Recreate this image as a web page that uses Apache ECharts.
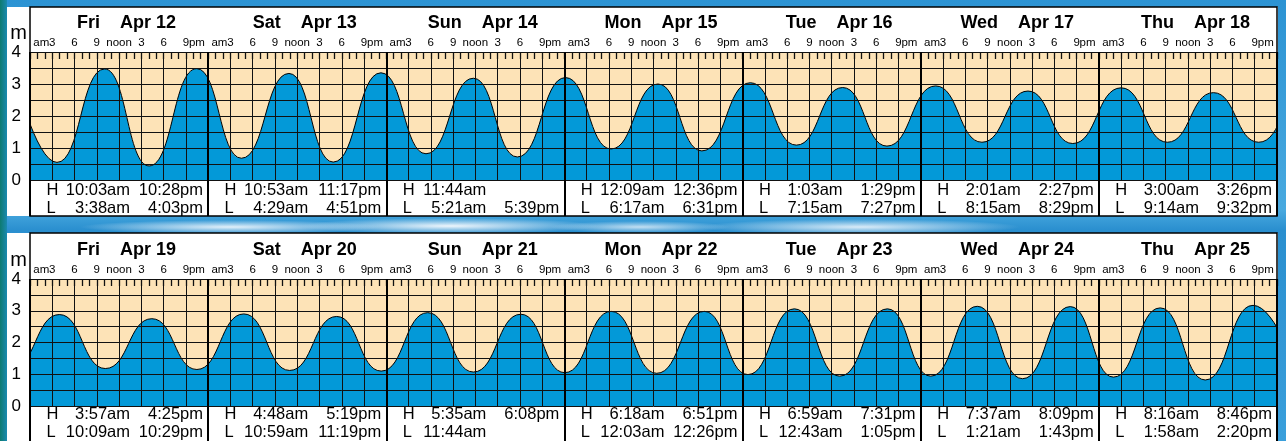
<!DOCTYPE html>
<html>
<head>
<meta charset="utf-8">
<script src="https://cdn.jsdelivr.net/npm/echarts@6/dist/echarts.min.js"></script>
<style>
html,body{margin:0;padding:0;width:1286px;height:441px;overflow:hidden;}
body{background:
 radial-gradient(ellipse 150px 7px at 230px 227px, rgba(236,245,252,.95), rgba(236,245,252,0)),
 radial-gradient(ellipse 150px 8px at 450px 226px, rgba(242,248,253,.98), rgba(242,248,253,0)),
 radial-gradient(ellipse 90px 6px at 640px 227px, rgba(230,242,250,.8), rgba(230,242,250,0)),
 radial-gradient(ellipse 160px 8px at 860px 227px, rgba(236,245,252,.9), rgba(236,245,252,0)),
 linear-gradient(to bottom, #2c93d3 0px, #48a9df 210px, #2a8fcf 230px, #3a9fdb 441px);}
#chart{width:1286px;height:441px;}
#edgeL{position:absolute;left:0;top:0;width:7px;height:441px;background:linear-gradient(to right,#0e7a70,#1a8ab0);}
</style>
</head>
<body>
<div id="edgeL"></div>
<div id="chart" style="position:absolute;left:0;top:0;"></div>
<script>
// ---- data ----
const weekdays = ['Fri', 'Sat', 'Sun', 'Mon', 'Tue', 'Wed', 'Thu'];
const dates = ['Apr 12', 'Apr 13', 'Apr 14', 'Apr 15', 'Apr 16', 'Apr 17', 'Apr 18',
               'Apr 19', 'Apr 20', 'Apr 21', 'Apr 22', 'Apr 23', 'Apr 24', 'Apr 25'];
const highTimes = [
  ['10:03am', '10:28pm'], ['10:53am', '11:17pm'], ['11:44am'], ['12:09am', '12:36pm'],
  ['1:03am', '1:29pm'], ['2:01am', '2:27pm'], ['3:00am', '3:26pm'],
  ['3:57am', '4:25pm'], ['4:48am', '5:19pm'], ['5:35am', '6:08pm'], ['6:18am', '6:51pm'],
  ['6:59am', '7:31pm'], ['7:37am', '8:09pm'], ['8:16am', '8:46pm']
];
const highHeights = [
  [3.47, 3.48], [3.33, 3.35], [3.18], [3.20, 3.00], [3.04, 2.89], [2.94, 2.78], [2.88, 2.73],
  [2.88, 2.75], [2.90, 2.82], [2.94, 2.89], [2.98, 2.98], [3.06, 3.06], [3.14, 3.13], [3.09, 3.17]
];
const lowTimes = [
  ['3:38am', '4:03pm'], ['4:29am', '4:51pm'], ['5:21am', '5:39pm'], ['6:17am', '6:31pm'],
  ['7:15am', '7:27pm'], ['8:15am', '8:29pm'], ['9:14am', '9:32pm'],
  ['10:09am', '10:29pm'], ['10:59am', '11:19pm'], ['11:44am'], ['12:03am', '12:26pm'],
  ['12:43am', '1:05pm'], ['1:21am', '1:43pm'], ['1:58am', '2:20pm']
];
const lowHeights = [
  [0.55, 0.44], [0.68, 0.56], [0.82, 0.72], [0.97, 0.91], [1.09, 1.06], [1.18, 1.14], [1.18, 1.18],
  [1.18, 1.15], [1.12, 1.10], [1.07], [1.05, 1.03], [0.99, 0.94], [0.94, 0.86], [0.91, 0.82]
];
// turning points just outside the charted fortnight (estimated from the curve at the edges)
const edgeDays = [-1, 14];
const edgeTimes = ['9:47pm', '2:58am'];
const edgeHeights = [3.45, 0.85];
const yTicks = ['0', '1', '2', '3', '4'];

// ---- helpers ----
function toHour(day, t) {
  const m = t.match(/(\d+):(\d+)(am|pm)/);
  const h = (+m[1]) % 12 + (m[3] === 'pm' ? 12 : 0);
  return day * 24 + h + (+m[2]) / 60;
}
const turns = [];
for (let d = 0; d < dates.length; d++) {
  highTimes[d].forEach((t, j) => turns.push([toHour(d, t), highHeights[d][j]]));
  lowTimes[d].forEach((t, j) => turns.push([toHour(d, t), lowHeights[d][j]]));
}
edgeDays.forEach((d, i) => turns.push([toHour(d, edgeTimes[i]), edgeHeights[i]]));
turns.sort((a, b) => a[0] - b[0]);

const FONT = "'Liberation Sans', Arial, Helvetica, sans-serif";
const NARROW = "'Liberation Sans Narrow', 'Arial Narrow', 'Liberation Sans', sans-serif";
const LINE = '#111';
const panels = [
  { top: 52, height: 128, boxTop: 7, boxH: 209, day0: 0, hlMargin: 1 },
  { top: 279, height: 127, boxTop: 233, boxH: 215, day0: 7, hlMargin: 0 }
];
const LEFT = 30, WIDTH = 1247;

const grid = [], xAxis = [], yAxis = [], series = [], graphic = [];
panels.forEach((p, pi) => {
  const g0 = pi * 3;
  const minH = p.day0 * 24, maxH = minH + 168;
  const panelDays = dates.slice(p.day0, p.day0 + 7);
  for (let k = 0; k < 3; k++) {
    grid.push({ left: LEFT, top: p.top, width: WIDTH, height: p.height, z: 0,
      show: k === 0, backgroundColor: k === 0 ? '#fde3b7' : 'transparent', borderWidth: 0 });
  }
  // main value axis: 3-hour grid lines
  xAxis.push({ gridIndex: g0, type: 'value', position: 'bottom', min: minH, max: maxH, interval: 3, z: 5,
    axisLine: { show: false }, axisTick: { show: false }, axisLabel: { show: false },
    splitLine: { show: true, lineStyle: { color: LINE, width: 1 } } });
  // hourly ticks under the top edge
  xAxis.push({ gridIndex: g0, type: 'value', position: 'top', min: minH, max: maxH, interval: 1, z: 5,
    axisLine: { show: false }, axisLabel: { show: false }, splitLine: { show: false },
    axisTick: { show: true, inside: true, length: 7, lineStyle: { color: LINE, width: 1.3 } } });
  // hour labels
  xAxis.push({ gridIndex: g0 + 1, type: 'value', position: 'top', min: minH, max: maxH, interval: 3, z: 5,
    axisLine: { show: false }, axisTick: { show: false }, splitLine: { show: false },
    axisLabel: { show: true, margin: 3, color: '#000', fontFamily: NARROW, fontSize: 11.5, lineHeight: 12,
      showMinLabel: true, showMaxLabel: true,
      formatter: v => {
        const h = ((Math.round(v) % 24) + 24) % 24;
        switch (h) {
          case 3: return '{ap|am}{n|3}{pad| }';
          case 6: return '6';
          case 9: return '9';
          case 12: return 'noon';
          case 15: return '3';
          case 18: return '6';
          case 21: return '{pad| }{n|9}{ap|pm}';
          default: return '';
        }
      },
      rich: {
        ap: { width: 13, align: 'center', fontFamily: NARROW, fontSize: 11.5, lineHeight: 12, color: '#000' },
        n: { width: 9, align: 'center', fontFamily: NARROW, fontSize: 11.5, lineHeight: 12, color: '#000' },
        pad: { width: 13, align: 'center', fontFamily: NARROW, fontSize: 11.5, lineHeight: 12 }
      } } });
  // high / low text table below the plot
  xAxis.push({ gridIndex: g0 + 1, type: 'category', position: 'bottom', data: panelDays, boundaryGap: true, z: 6,
    axisLine: { show: false }, splitLine: { show: false },
    axisTick: { show: true, interval: 0, length: 36, lineStyle: { color: '#000', width: 2 } },
    axisLabel: { show: true, interval: 0, margin: p.hlMargin, padding: [0, 0, 0, 11.3],
      formatter: (val, idx) => {
        const d = p.day0 + idx;
        const hi = highTimes[d], lo = lowTimes[d];
        const row = (k, arr) => '{k|' + k + '}{a|' + arr[0] + '}{b|' + (arr[1] || ' ') + '}';
        return row('H', hi) + '\n' + row('L', lo);
      },
      rich: {
        k: { width: 12, align: 'left', fontFamily: FONT, fontSize: 16.5, lineHeight: 18, color: '#000' },
        a: { width: 71.6, align: 'right', fontFamily: FONT, fontSize: 16.5, lineHeight: 18, color: '#000' },
        b: { width: 73, align: 'right', fontFamily: FONT, fontSize: 16.5, lineHeight: 18, color: '#000' }
      } } });
  // day headers + day separator lines
  xAxis.push({ gridIndex: g0 + 2, type: 'category', position: 'top', data: panelDays, boundaryGap: true, z: 6,
    axisLine: { show: false },
    splitLine: { show: true, interval: 0, lineStyle: { color: '#000', width: 2 } },
    axisTick: { show: true, interval: 0, length: p.top - p.boxTop, lineStyle: { color: '#000', width: 2 } },
    axisLabel: { show: true, interval: 0, margin: 19, padding: [0, 0, 0, 15],
      formatter: (val, idx) => '{d|' + weekdays[idx] + '}{s| }{m|' + val + '}',
      rich: {
        d: { align: 'left', fontFamily: FONT, fontSize: 18, fontWeight: 'bold', lineHeight: 20, color: '#000' },
        s: { width: 20, align: 'left', fontSize: 18, lineHeight: 20 },
        m: { align: 'left', fontFamily: FONT, fontSize: 18, fontWeight: 'bold', lineHeight: 20, color: '#000' }
      } } });

  yAxis.push({ gridIndex: g0, type: 'value', min: 0, max: 4, interval: 0.5, z: 5,
    name: 'm', nameLocation: 'end', nameGap: 9,
    nameTextStyle: { fontFamily: FONT, fontSize: 20, color: '#000', align: 'right', verticalAlign: 'bottom', padding: [0, 3, 0, 0] },
    axisLine: { show: false }, axisTick: { show: false },
    axisLabel: { show: true, margin: 9, color: '#000', fontFamily: FONT, fontSize: 17,
      formatter: v => (Number.isInteger(v) ? yTicks[v] : '') },
    splitLine: { show: true, lineStyle: { color: LINE, width: 1 } } });
  yAxis.push({ gridIndex: g0 + 1, type: 'value', show: false });
  yAxis.push({ gridIndex: g0 + 2, type: 'value', show: false });

  series.push({ type: 'line', xAxisIndex: pi * 5, yAxisIndex: pi * 3, data: turns, z: 1,
    smooth: 0.5, smoothMonotone: 'x', showSymbol: false, symbol: 'none', clip: true, silent: true,
    lineStyle: { color: '#000', width: 1 },
    areaStyle: { color: '#0399d8', opacity: 1 } });

  graphic.push({ type: 'rect', z: -10, silent: true,
    shape: { x: 7, y: p.boxTop, width: 1271, height: p.boxH }, style: { fill: '#fff' } });
  graphic.push({ type: 'rect', z: 50, silent: true,
    shape: { x: LEFT, y: p.boxTop, width: WIDTH, height: p.boxH },
    style: { fill: 'none', stroke: '#000', lineWidth: 1.5 } });
});

const chart = echarts.init(document.getElementById('chart'), null, { renderer: 'canvas' });
chart.setOption({ animation: false, backgroundColor: 'transparent', grid, xAxis, yAxis, series, graphic });
</script>
</body>
</html>
